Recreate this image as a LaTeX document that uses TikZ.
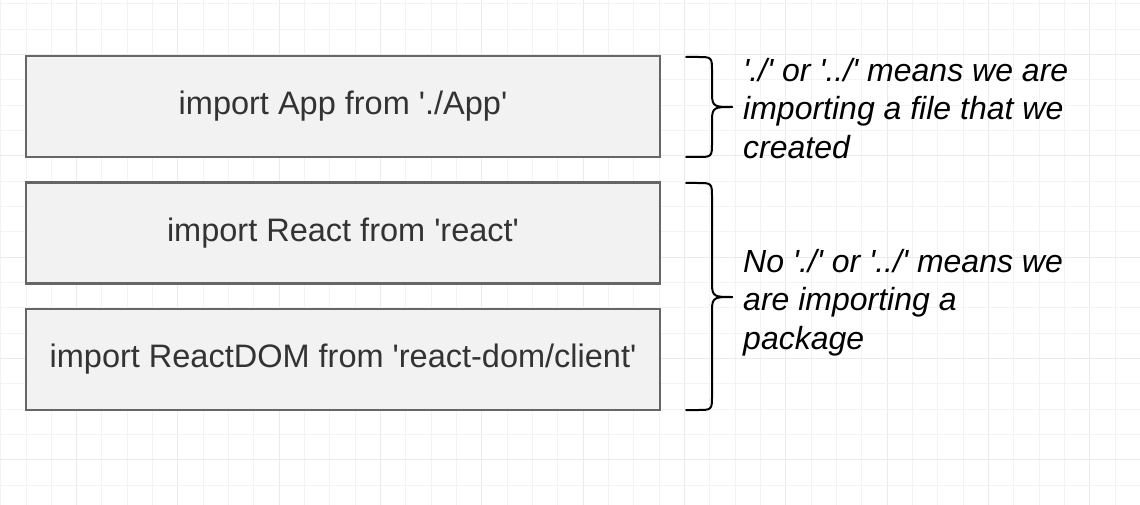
\documentclass[tikz,border=0pt]{standalone}
\usepackage{fontspec}
\setmainfont{Liberation Sans}[Ligatures=TeXOff]
\definecolor{gridminor}{HTML}{F3F3F3}
\definecolor{gridmajor}{HTML}{EAEAEA}
\definecolor{boxfill}{HTML}{F2F2F2}
\definecolor{boxline}{HTML}{666666}
\definecolor{txt}{HTML}{333333}
\begin{document}
\begin{tikzpicture}[x=1pt,y=-1pt,
  codebox/.style={draw=boxline,line width=2.2pt,fill=boxfill,minimum width=634pt,minimum height=101pt,inner sep=0pt,
    font=\fontsize{32.5}{38}\selectfont,text=txt},
  note/.style={anchor=west,align=left,inner sep=0pt,font=\itshape\fontsize{32}{38.3}\selectfont,text=black},
  bracepath/.style={draw=black,line width=2pt,line cap=round,line join=round}]
\useasboundingbox (0,0) rectangle (1140,505);
\fill[white] (0,0) rectangle (1140,505);
% grid
\foreach \k in {0,...,44}{
  \pgfmathsetmacro{\xx}{0.67+25.33*\k}
  \pgfmathtruncatemacro{\mj}{mod(\k,4)==3}
  \ifnum\mj=1 \draw[gridmajor,line width=1pt] (\xx,0) -- (\xx,505);
  \else \draw[gridminor,line width=1pt] (\xx,0) -- (\xx,505); \fi
}
\foreach \k in {0,...,19}{
  \pgfmathsetmacro{\yy}{4+25.33*\k}
  \pgfmathtruncatemacro{\mj}{mod(\k,4)==2}
  \ifnum\mj=1 \draw[gridmajor,line width=1pt] (0,\yy) -- (1140,\yy);
  \else \draw[gridminor,line width=1pt] (0,\yy) -- (1140,\yy); \fi
}
% boxes
\node[codebox] (app) at (343,106.5) {import App from './App'};
\node[codebox] (react) at (343,233) {import React from 'react'};
\node[codebox] (dom) at (343,359.5) {import ReactDOM from 'react-dom/client'};
% braces
\coordinate (b1t) at (686,57);
\coordinate (b1m) at (732,107);
\coordinate (b1b) at (686,157);
\draw[bracepath] (b1t) -- (697,57) .. controls (712,57) .. (712,72) -- (712,94)
  .. controls (712,107) and (715,107) .. (b1m);
\draw[bracepath] (b1b) -- (697,157) .. controls (712,157) .. (712,142) -- (712,120)
  .. controls (712,107) and (715,107) .. (b1m);
\coordinate (b2t) at (686,183);
\coordinate (b2m) at (732,297);
\coordinate (b2b) at (686,410);
\draw[bracepath] (b2t) -- (697,183) .. controls (712,183) .. (712,198) -- (712,284)
  .. controls (712,297) and (715,297) .. (b2m);
\draw[bracepath] (b2b) -- (697,410) .. controls (712,410) .. (712,395) -- (712,310)
  .. controls (712,297) and (715,297) .. (b2m);
% notes
\node[note] (n1) at (743,108.5) {'./' or '../' means we are\\importing a file that we\\created};
\node[note] (n2) at (743,302.5) {No './' or '../' means we\\are importing a\\package};
\end{tikzpicture}
\end{document}
